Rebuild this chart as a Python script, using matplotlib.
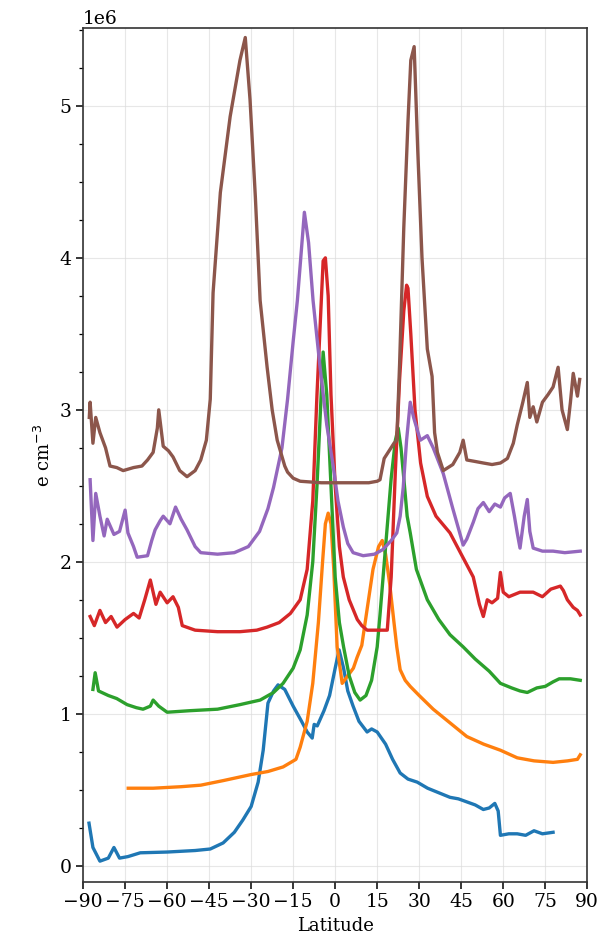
import numpy as np
import matplotlib.pyplot as plt
from matplotlib.ticker import AutoMinorLocator, MultipleLocator

plt.rcParams['font.family'] = ['DejaVu Serif']

# latitude / electron density (x 1e6)
lat_c0 = [-87.9, -86.5, -84, -81, -79, -77, -74, -69.6, -60, -50, -44.6, -40, -36, -33, -30, -27.5, -25.7, -24, -22, -20.4, -18, -15, -12, -10, -8.2, -7.5, -6.4, -4, -2, 0, 1.4, 3, 4.5, 6.4, 8.5, 11.4, 13, 15, 18, 20.5, 23.2, 26, 29.3, 33, 37, 41, 44, 47, 50, 52.9, 55, 57, 58.2, 59, 62, 65, 68, 71, 74, 77.8]
den_c0 = [0.28, 0.12, 0.03, 0.05, 0.12, 0.05, 0.06, 0.085, 0.09, 0.1, 0.11, 0.15, 0.22, 0.3, 0.39, 0.55, 0.76, 1.07, 1.15, 1.19, 1.16, 1.05, 0.95, 0.88, 0.84, 0.93, 0.92, 1.02, 1.12, 1.3, 1.42, 1.3, 1.15, 1.05, 0.95, 0.88, 0.9, 0.88, 0.8, 0.7, 0.61, 0.57, 0.55, 0.51, 0.48, 0.45, 0.44, 0.42, 0.4, 0.37, 0.38, 0.41, 0.36, 0.2, 0.21, 0.21, 0.2, 0.23, 0.21, 0.22]

lat_c1 = [-73.9, -65, -55, -48, -40, -30, -24, -18.6, -14, -12.5, -10, -8, -6, -4.5, -3.5, -2.5, -1.5, -0.5, 0.7, 2.5, 4.5, 6.5, 7.8, 9.5, 11.5, 13.5, 15.5, 16.8, 18, 19.5, 21, 22, 23.2, 25, 26.8, 30, 35, 41, 47, 53, 59, 65, 71, 77.8, 83, 86.5, 87.5]
den_c1 = [0.51, 0.51, 0.52, 0.53, 0.56, 0.6, 0.62, 0.65, 0.7, 0.78, 0.95, 1.2, 1.6, 2.0, 2.25, 2.32, 2.25, 1.95, 1.44, 1.2, 1.25, 1.3, 1.37, 1.45, 1.7, 1.95, 2.1, 2.14, 2.05, 1.85, 1.6, 1.44, 1.29, 1.22, 1.18, 1.12, 1.03, 0.94, 0.85, 0.8, 0.76, 0.71, 0.69, 0.68, 0.69, 0.7, 0.73]

lat_c2 = [-86.5, -85.7, -84.5, -81, -78, -74.3, -71, -68.6, -66, -65, -63, -60, -52, -42, -34, -26.8, -22, -18.6, -15, -12.5, -10, -8, -6.5, -5, -4.3, -3, -1.5, 0, 1.5, 3, 5, 7, 8.9, 11, 13, 15, 16, 18, 20, 21.5, 22.5, 23.5, 24.5, 25.7, 26.8, 29, 32.9, 37, 41, 45.7, 50, 55, 59, 63, 66, 68.6, 72, 75, 77.8, 80, 84, 87.5]
den_c2 = [1.16, 1.27, 1.15, 1.12, 1.1, 1.06, 1.04, 1.03, 1.05, 1.09, 1.05, 1.01, 1.02, 1.03, 1.06, 1.09, 1.14, 1.2, 1.3, 1.42, 1.65, 2.0, 2.5, 3.1, 3.38, 3.1, 2.5, 1.9, 1.6, 1.44, 1.25, 1.14, 1.09, 1.12, 1.22, 1.44, 1.65, 2.1, 2.55, 2.8, 2.88, 2.75, 2.55, 2.3, 2.19, 1.95, 1.75, 1.62, 1.52, 1.44, 1.36, 1.28, 1.2, 1.17, 1.15, 1.14, 1.17, 1.18, 1.21, 1.23, 1.23, 1.22]

lat_c3 = [-87.5, -86, -84, -82, -80, -77.9, -75, -72, -70, -68, -66, -64, -62.5, -60, -57.9, -56, -54.6, -50, -42, -34, -28, -24.3, -20, -16, -12.5, -10, -8, -6.5, -5, -4.3, -3.5, -2.5, -1.5, 0, 1.5, 2.9, 5, 7.9, 9.5, 11.4, 15, 18.6, 20, 21.5, 23, 24.5, 25.5, 26, 27, 28.5, 30.5, 32.9, 36, 41, 45, 49.3, 51.5, 52.9, 54.3, 56, 58, 59, 60, 62, 66, 70.7, 74, 77, 80.4, 81.5, 82.9, 85, 86.5, 87.5]
den_c3 = [1.64, 1.58, 1.68, 1.6, 1.64, 1.57, 1.62, 1.66, 1.63, 1.75, 1.88, 1.72, 1.8, 1.73, 1.77, 1.7, 1.58, 1.55, 1.54, 1.54, 1.55, 1.57, 1.6, 1.66, 1.75, 1.95, 2.4, 3.1, 3.7, 3.98, 4.0, 3.75, 3.1, 2.5, 2.1, 1.9, 1.75, 1.62, 1.58, 1.55, 1.55, 1.55, 1.9, 2.6, 3.2, 3.65, 3.82, 3.8, 3.5, 3.0, 2.65, 2.43, 2.3, 2.19, 2.05, 1.9, 1.72, 1.64, 1.75, 1.73, 1.76, 1.93, 1.8, 1.77, 1.8, 1.8, 1.77, 1.82, 1.84, 1.81, 1.75, 1.7, 1.68, 1.65]

lat_c4 = [-87.5, -86.5, -85.5, -84, -82.5, -81.4, -79, -77, -75, -74, -72, -70.7, -67, -65.5, -64.3, -62.5, -61.4, -59, -57, -55, -52.9, -50, -48, -42, -36, -31, -27, -24, -22, -19, -17, -15, -13.5, -12.5, -11, -9.5, -7.9, -5.4, -3, -0.7, 1, 2.9, 4.5, 6.4, 10, 14, 17, 20, 22, 23.2, 24.3, 25.5, 26.8, 28, 30.4, 32.9, 35, 38.6, 42, 45.7, 47, 49.3, 51, 52.9, 55, 57, 59, 60.5, 62.5, 64, 65, 66, 67.5, 68.6, 69.5, 70.7, 74, 77.8, 82, 87.5]
den_c4 = [2.54, 2.14, 2.45, 2.3, 2.17, 2.28, 2.18, 2.2, 2.34, 2.19, 2.1, 2.03, 2.04, 2.14, 2.21, 2.27, 2.3, 2.25, 2.36, 2.28, 2.21, 2.1, 2.06, 2.05, 2.06, 2.1, 2.2, 2.35, 2.49, 2.75, 3.07, 3.45, 3.72, 3.95, 4.3, 4.1, 3.72, 3.28, 2.9, 2.63, 2.4, 2.23, 2.12, 2.06, 2.04, 2.05, 2.08, 2.14, 2.19, 2.3, 2.49, 2.8, 3.05, 2.95, 2.8, 2.83, 2.75, 2.58, 2.35, 2.11, 2.15, 2.26, 2.35, 2.39, 2.33, 2.38, 2.36, 2.42, 2.45, 2.3, 2.19, 2.09, 2.3, 2.41, 2.2, 2.09, 2.07, 2.07, 2.06, 2.07]

lat_c5 = [-87.8, -87.5, -86.5, -85.5, -84, -82, -80.4, -78, -75.7, -72, -69, -67, -65, -63.5, -63, -62, -61.4, -59.5, -57.9, -55.5, -52.9, -50, -48, -46, -44.6, -43.6, -41, -37.5, -34, -32.1, -30.4, -28.5, -26.8, -24.3, -22.5, -20.7, -18, -17, -15, -12.5, -5, 5, 12, 15, 16, 17.5, 19.6, 21, 22, 23, 24.5, 26, 27, 28.2, 29.5, 31, 32.9, 34.6, 35.5, 36.5, 38.6, 42, 44.5, 45.7, 47, 50, 52.9, 56, 59, 61.5, 63.6, 65, 67, 68.6, 69.5, 70.7, 72, 74, 76, 77.8, 79.6, 81, 82.9, 84, 85, 86.5, 87.3]
den_c5 = [2.95, 3.05, 2.78, 2.95, 2.85, 2.75, 2.63, 2.62, 2.6, 2.62, 2.63, 2.67, 2.72, 2.88, 3.0, 2.85, 2.76, 2.73, 2.69, 2.6, 2.56, 2.6, 2.67, 2.8, 3.07, 3.77, 4.43, 4.93, 5.3, 5.45, 5.04, 4.4, 3.72, 3.28, 3.0, 2.8, 2.63, 2.59, 2.55, 2.53, 2.52, 2.52, 2.52, 2.53, 2.54, 2.68, 2.74, 2.78, 2.8, 3.3, 4.2, 4.9, 5.3, 5.39, 4.7, 4.0, 3.4, 3.22, 2.85, 2.72, 2.6, 2.64, 2.72, 2.8, 2.67, 2.66, 2.65, 2.64, 2.65, 2.68, 2.78, 2.9, 3.05, 3.18, 2.95, 3.02, 2.92, 3.05, 3.1, 3.15, 3.28, 3.0, 2.87, 3.05, 3.24, 3.09, 3.2]

series = [(lat_c0, den_c0), (lat_c1, den_c1), (lat_c2, den_c2),
          (lat_c3, den_c3), (lat_c4, den_c4), (lat_c5, den_c5)]

fig = plt.figure(figsize=(5.98, 9.46), dpi=100)
ax = fig.add_axes([0.139, 0.068, 0.843, 0.902])

for lat, den in series:
    ax.plot(lat, np.array(den) * 1e6, lw=2.4)

ax.set_xlim(-90, 90)
ax.set_ylim(-0.105e6, 5.51e6)
ax.xaxis.set_major_locator(MultipleLocator(15))
ax.yaxis.set_minor_locator(AutoMinorLocator(4))
ax.grid(True, color='#dddddd', lw=0.8, alpha=0.7)
ax.tick_params(labelsize=13.5, length=5, width=1.1)
ax.tick_params(which='minor', length=3, width=0.9)
ax.yaxis.get_offset_text().set_fontsize(13.5)
for s in ax.spines.values():
    s.set_linewidth(1.2)
    s.set_color('#333333')

ax.set_xlabel('Latitude', fontsize=13)
ax.set_ylabel('e cm$^{-3}$', fontsize=13)

fig.savefig('out.png', dpi=100)
